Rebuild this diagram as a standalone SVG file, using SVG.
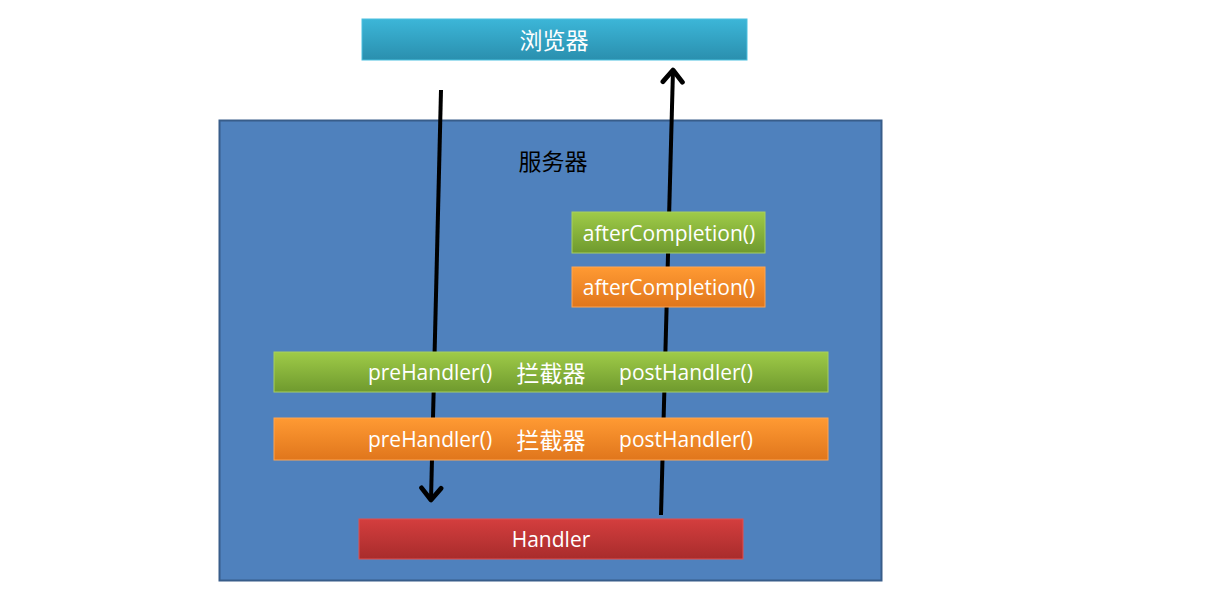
<svg xmlns="http://www.w3.org/2000/svg" width="1208" height="591" viewBox="0 0 1208 591">
<defs>
<linearGradient id="gBlue" x1="0" y1="0" x2="0" y2="1"><stop offset="0" stop-color="#3cb6d8"/><stop offset="1" stop-color="#2a8fae"/></linearGradient>
<linearGradient id="gGreen" x1="0" y1="0" x2="0" y2="1"><stop offset="0" stop-color="#9fcb48"/><stop offset="1" stop-color="#6f9a2e"/></linearGradient>
<linearGradient id="gOrange" x1="0" y1="0" x2="0" y2="1"><stop offset="0" stop-color="#ff9a33"/><stop offset="1" stop-color="#e0761c"/></linearGradient>
<linearGradient id="gRed" x1="0" y1="0" x2="0" y2="1"><stop offset="0" stop-color="#d43e3e"/><stop offset="1" stop-color="#a82c2c"/></linearGradient>
<marker id="arr" viewBox="0 0 12 12" refX="7" refY="6" markerWidth="6.5" markerHeight="6.5" orient="auto" markerUnits="strokeWidth"><path d="M1.5,1.5 L7,6 L1.5,10.5" fill="none" stroke="#000" stroke-width="2.2" stroke-linecap="round" stroke-linejoin="round"/></marker>
</defs>
<style>
.lbl{font-family:"Open Sans","Noto Sans CJK SC",sans-serif;font-size:21px;fill:#fff;text-anchor:middle;dominant-baseline:central}
.cjk{font-family:"Noto Sans CJK SC",sans-serif;font-size:23px}
.bar{stroke-width:1}
.conn{stroke:#000;stroke-width:4;fill:none;marker-end:url(#arr)}
</style>
<rect width="1208" height="591" fill="#fff"/>
<g id="server">
<rect x="219.5" y="120.5" width="662" height="460" fill="#4f81bd" stroke="#385d8a" stroke-width="2"/>
<text x="553" y="160" class="lbl cjk" style="fill:#000">服务器</text>
</g>
<g id="browser">
<rect x="362" y="19" width="385" height="41" fill="url(#gBlue)" stroke="#4bc0df" class="bar"/>
<text x="554" y="39" class="lbl cjk">浏览器</text>
</g>
<g id="connectors">
<line x1="441" y1="90" x2="431" y2="500" class="conn"/>
<line x1="661" y1="515" x2="673" y2="70" class="conn"/>
</g>
<g id="after-green">
<rect x="572" y="212" width="193" height="41" fill="url(#gGreen)" stroke="#a7cf60" class="bar"/>
<text x="669" y="233" class="lbl">afterCompletion()</text>
</g>
<g id="after-orange">
<rect x="572" y="267" width="193" height="40" fill="url(#gOrange)" stroke="#ffa552" class="bar"/>
<text x="669" y="287" class="lbl">afterCompletion()</text>
</g>
<g id="interceptor-green">
<rect x="274" y="352" width="554" height="40" fill="url(#gGreen)" stroke="#a7cf60" class="bar"/>
<text x="430" y="372" class="lbl">preHandler()</text>
<text x="551" y="372" class="lbl cjk">拦截器</text>
<text x="686" y="372" class="lbl">postHandler()</text>
</g>
<g id="interceptor-orange">
<rect x="274" y="418" width="554" height="42" fill="url(#gOrange)" stroke="#ffa552" class="bar"/>
<text x="430" y="439" class="lbl">preHandler()</text>
<text x="551" y="439" class="lbl cjk">拦截器</text>
<text x="686" y="439" class="lbl">postHandler()</text>
</g>
<g id="handler">
<rect x="359" y="519" width="384" height="40" fill="url(#gRed)" stroke="#e05050" class="bar"/>
<text x="551" y="539" class="lbl">Handler</text>
</g>
</svg>
